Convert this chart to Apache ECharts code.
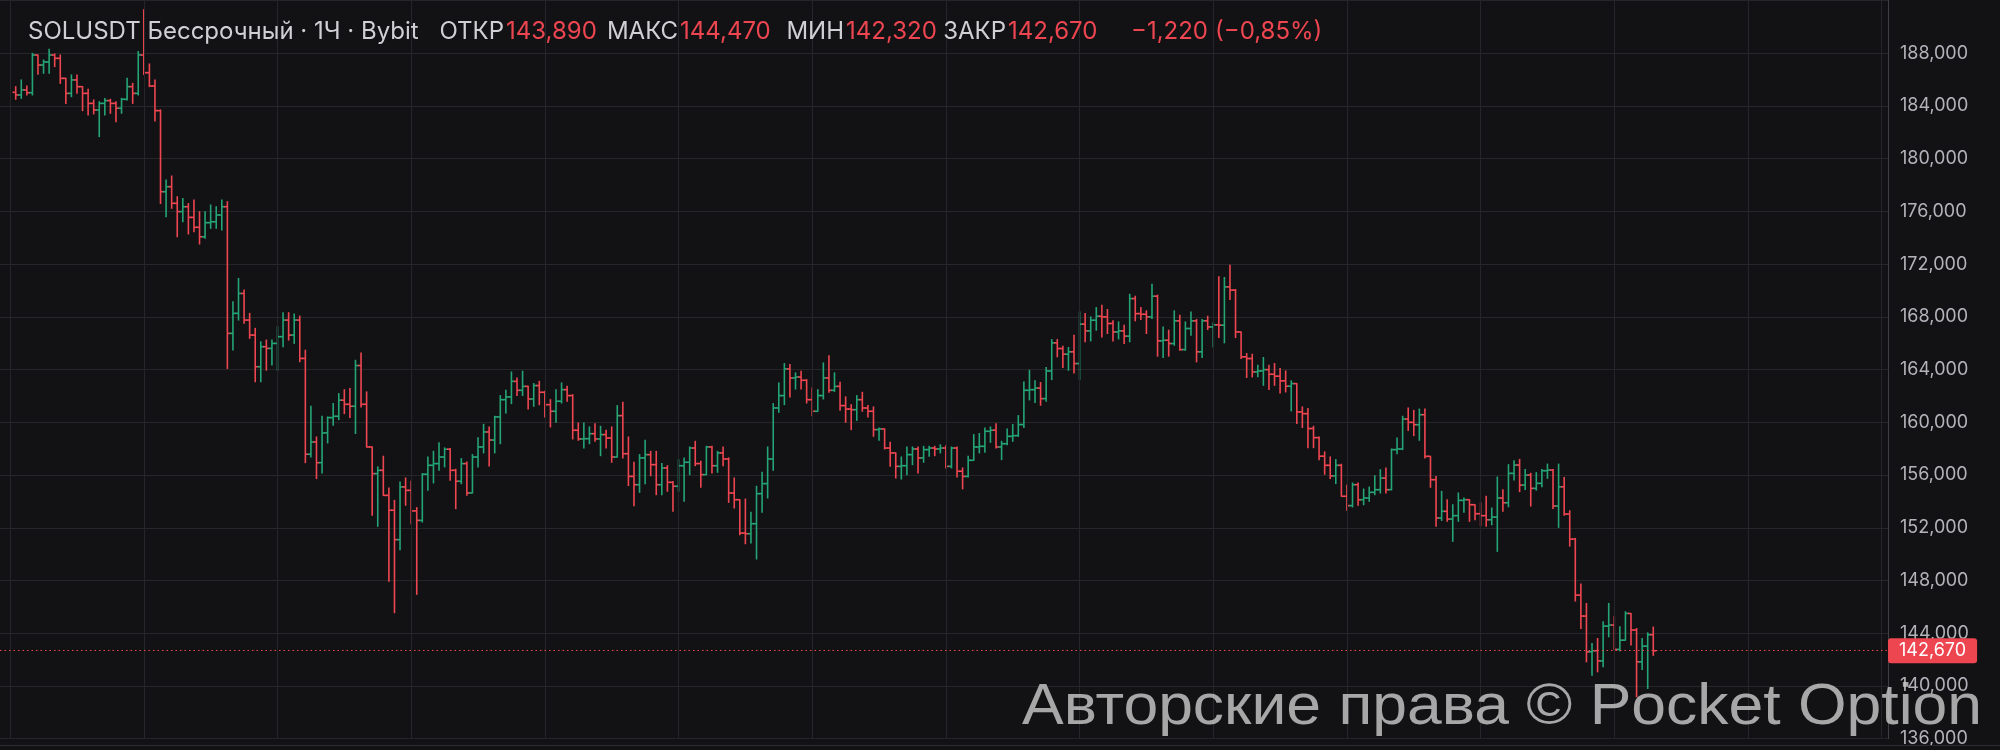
<!DOCTYPE html>
<html><head><meta charset="utf-8">
<script src="https://cdn.jsdelivr.net/npm/echarts@6/dist/echarts.min.js"></script>
<style>html,body{margin:0;padding:0;background:#121215;}#c{width:2000px;height:750px;}</style>
</head><body><div id="c"></div>
<script>
// ---- data (1H bars, SOLUSDT perpetual, Bybit) ----
const symbolTitle = 'SOLUSDT Бессрочный · 1Ч · Bybit';
const watermarkText = 'Авторские права © Pocket Option';
const firstDayBar = 23;           // index of the first bar that opens a new day
const barsPerDay = 24;
const priceTicks = [136000,140000,144000,148000,152000,156000,160000,164000,168000,172000,176000,180000,184000,188000];

const opens = [
185040,184840,185220,185010,187870,187110,187340,187870,187620,186100,
184960,185980,185470,184960,184200,183700,184200,184410,184200,183830,
184510,185470,184960,187870,186530,185520,183650,177500,177880,176620,
175990,176360,175550,174800,174080,175150,175220,175730,176360,166750,
168270,169780,167760,166620,164220,165740,165610,165990,166500,167760,
166620,167760,164850,157580,158510,156940,159200,160360,160460,161680,
161370,161220,164310,161370,158130,156110,156360,154460,153330,151100,
155100,154840,153280,152560,156060,156740,156870,157370,157960,156360,
155530,156870,154640,157370,158130,159270,158660,160410,161720,161930,
163110,162430,162730,161770,162790,162280,161340,160840,161600,162480,
162030,159400,158740,158760,159140,158740,159070,158810,157370,160510,
157620,155900,155270,157300,157550,156790,155270,156540,155450,155150,
156710,156970,158050,156870,156030,158130,156710,157680,157220,154640,
154130,151600,151550,152310,154590,155350,157220,161090,162030,164050,
163370,163440,163190,161720,160840,162030,163370,162430,162730,161270,
161010,160960,161720,161090,160840,159450,159500,158050,157680,156660,
156710,157550,157980,157300,157930,158050,157980,158050,156660,158050,
156290,155900,157120,158130,158180,159320,159400,158130,158380,158940,
158990,159830,162430,162480,162600,161800,163900,166030,165600,165170,
165350,164460,167450,166940,167750,168050,168000,167500,166860,166940,
166540,169390,168250,168200,168000,169570,166180,166230,165980,167700,
165520,167120,167700,165350,167700,167240,167400,167370,170280,170030,
166860,164970,164840,163830,163900,164000,163650,163500,163150,162740,
162940,160790,160660,159530,158840,157430,156740,155940,156740,154390,
153680,155270,154130,154260,154690,154890,155770,154890,157930,157980,
160250,160000,159820,160580,157420,155650,152740,153250,152660,152920,
154080,154130,153750,153070,152920,152610,152810,154260,153900,156130,
156760,155240,156000,154990,155370,156330,156380,153650,155110,153040,
151140,146890,145300,142590,142670,141900,144540,144620,142770,143470,
145500,144240,141830,143020,143890];

const highs = [
185470,185980,185520,188000,187870,187490,188300,187950,187870,186100,
186360,186360,185470,185270,184460,184330,184580,184510,184330,184580,
186100,185720,188130,191300,187190,185980,183700,178390,178690,177120,
176990,176600,176870,175980,175980,176490,176360,176870,176740,169150,
170920,170040,168270,167130,166110,166240,166240,167250,168320,168320,
168220,168060,165470,161220,158890,160460,160410,161420,162180,162480,
162560,164710,165270,162310,158130,156620,157430,155020,154080,155480,
155780,155530,153530,156110,157370,157800,158460,158060,158010,156440,
157250,157000,157550,158840,159850,159650,160460,162030,162430,163820,
163370,163880,162730,162940,163110,162360,161720,162480,162990,162730,
162100,159950,159950,159650,159900,159700,159400,159650,161270,161520,
158890,156970,157550,158640,157800,157800,156870,156710,155520,157170,
157300,158130,158560,157040,158180,158180,157800,158130,157300,155780,
154130,154180,153170,155150,156210,158130,161420,162990,164460,164380,
163750,163870,163240,162610,162480,164510,165060,163750,163040,161930,
161340,162030,162280,161270,161170,159580,159500,158480,157680,157370,
158130,158130,158130,158180,158180,158180,158300,158230,158130,158130,
156540,157420,159070,159150,159580,159650,159900,158560,159500,159830,
160510,163070,163950,163150,163020,164160,166280,166280,165780,165680,
166610,168380,168250,168000,168710,168890,168560,167700,167620,167370,
169720,169570,168710,168460,170480,169650,167240,166990,168460,168130,
167620,168380,167800,167800,168050,167550,171040,170990,171920,170080,
166860,165220,165170,164330,164920,164330,164460,164080,163900,163150,
162940,161170,161050,159700,158890,157760,157380,157170,156820,155230,
155400,155400,154940,155090,155950,156410,156540,157980,158810,160460,
161090,160910,161010,161010,157420,155900,154760,154130,153750,154640,
154260,154130,153750,153880,154390,153500,155850,154890,156790,157090,
157190,156430,156130,156180,156430,156830,156430,156830,155820,153290,
151190,147730,146260,143220,143600,144870,146260,145250,144490,145630,
145500,144360,143600,144030,144470];

const lows = [
184510,184580,184840,184840,186410,186480,186480,186990,185720,184200,
184710,184960,183650,183320,183400,181680,183320,183450,182810,183450,
184460,184200,184840,186400,185470,182870,176600,175600,176240,174080,
175220,174290,174470,173530,173960,174720,174720,174590,164090,165480,
167760,167510,166370,163080,163080,163960,164350,163960,165740,166240,
165990,164600,156940,157370,155730,156160,158440,159780,160210,160660,
160360,159150,161170,158130,152950,152110,154460,147940,145560,150340,
153710,152310,146950,152440,154840,155400,156360,156620,155600,153450,
155350,154460,154640,156620,157680,156690,157680,158380,160710,161420,
162030,162030,161010,161220,161340,160410,159650,160000,161470,161600,
158740,158640,158050,158380,158560,157470,158050,156970,157370,157300,
155200,153680,154690,155350,155950,154510,154510,154770,153250,154770,
154010,156030,156710,155070,156030,156160,156210,156710,153930,153500,
151480,150790,150840,149630,153170,154260,156360,160760,161340,161930,
162530,162530,161470,160510,160840,161770,162280,162350,160910,160000,
159450,160150,160840,160410,158940,158640,157980,156660,155780,155700,
156030,156790,156160,156970,157420,157470,157680,156540,156540,155850,
154950,155850,157120,157680,157730,158480,158050,157170,158300,158560,
158940,159600,161700,161500,161300,161600,163240,164970,164160,163950,
163750,163240,166110,166180,166990,166480,166740,166180,166330,165980,
166110,167700,167800,166740,167880,165020,164920,165020,165850,165470,
165470,166610,164590,164920,167040,165730,166430,166030,169320,166430,
164840,163400,163450,163450,162810,162490,162810,162230,162310,160870,
159910,159610,158080,158080,157170,156060,155730,155350,154390,153330,
153580,153710,153750,154010,154510,154640,154640,154890,157620,157930,
159390,158990,158640,157300,155070,152110,152560,152490,150970,152490,
153170,152490,152610,152160,152110,152230,150210,153250,153600,155620,
154740,154910,153650,154860,155110,155750,153470,152030,152960,150610,
146440,144360,141830,140820,141070,141450,143730,142770,142670,143470,
143100,139180,141250,139810,142320];

const closes = [
184840,185220,185010,187870,187110,187340,187870,187620,186100,184960,
185980,185470,184960,184200,183700,184200,184410,184200,183830,184510,
185470,184960,187870,186530,185520,183650,177500,177880,176620,175990,
176360,175550,174800,174080,175150,175220,175730,176360,166750,168270,
169780,167760,166620,164220,165740,165610,165990,166500,167760,166620,
167760,164850,157580,158510,156940,159200,160360,160460,161680,161370,
161220,164310,161370,158130,156110,156360,154460,153330,151100,155100,
154840,153280,152560,156060,156740,156870,157370,157960,156360,155530,
156870,154640,157370,158130,159270,158660,160410,161720,161930,163110,
162430,162730,161770,162790,162280,161340,160840,161600,162480,162030,
159400,158740,158760,159140,158740,159070,158810,157370,160510,157620,
155900,155270,157300,157550,156790,155270,156540,155450,155150,156710,
156970,158050,156870,156030,158130,156710,157680,157220,154640,154130,
151600,151550,152310,154590,155350,157220,161090,162030,164050,163370,
163440,163190,161720,160840,162030,163370,162430,162730,161270,161010,
160960,161720,161090,160840,159450,159500,158050,157680,156660,156710,
157550,157980,157300,157930,158050,157980,158050,156660,158050,156290,
155900,157120,158130,158180,159320,159400,158130,158380,158940,158990,
159830,162430,162480,162600,161800,163900,166030,165600,165170,165350,
164460,167450,166940,167750,168050,168000,167500,166860,166940,166540,
169390,168250,168200,168000,169570,166180,166230,165980,167700,165520,
167120,167700,165350,167700,167240,167400,167370,170280,170030,166860,
164970,164840,163830,163900,164000,163650,163500,163150,162740,162940,
160790,160660,159530,158840,157430,156740,155940,156740,154390,153680,
155270,154130,154260,154690,154890,155770,154890,157930,157980,160250,
160000,159820,160580,157420,155650,152740,153250,152660,152920,154080,
154130,153750,153070,152920,152610,152810,154260,153900,156130,156760,
155240,156000,154990,155370,156330,156380,153650,155110,153040,151140,
146890,145300,142590,142670,141900,144540,144620,142770,143470,145500,
144240,141830,143020,143890,142670];

// ---- styling ----
const BG = '#121215';
const GRID = '#25252a';
const UP = '#25a475';
const DOWN = '#ee4650';
const LABEL = '#cfcfd4';
const AXIS_TXT = '#b3b3b9';

const fmt = v => Math.round(v).toLocaleString('en-US');
const n = closes.length;
const last = n - 1;
const lastO = opens[last], lastH = highs[last], lastL = lows[last], lastC = closes[last];
const chg = lastC - closes[last - 1];
const pct = chg / closes[last - 1] * 100;
const sign = chg < 0 ? '\u2212' : '+';
const chgTxt = sign + fmt(Math.abs(chg));
const pctTxt = '(' + sign + Math.abs(pct).toFixed(2).replace('.', ',') + '%)';
const lastColor = lastC >= lastO ? UP : DOWN;
const chgColor = chg < 0 ? DOWN : UP;

const barData = closes.map((c, i) => [i, opens[i], highs[i], lows[i], c]);

// visible bar-index window of the time scale (empty space right of the last bar)
const xMin = -2.82, xMax = 336.14;
const dayLines = [];
for (let d = firstDayBar - barsPerDay; d <= xMax; d += barsPerDay) if (d >= xMin) dayLines.push({xAxis: d});

const tStep = priceTicks[1] - priceTicks[0];
const chart = echarts.init(document.getElementById('c'), null, {renderer: 'canvas', width: 2000, height: 750});

const hdrFont = '24px Inter';
function hdr(x, text, fill, align) {
  return {type: 'text', x: x, y: 32, z: 200,
    style: {text: text, fill: fill, font: hdrFont, textAlign: align || 'left', align: align || 'left',
      textVerticalAlign: 'middle', verticalAlign: 'middle'}};
}

chart.setOption({
  backgroundColor: BG,
  animation: false,
  grid: {left: 0, right: 112, top: 0.58, bottom: 11.34},
  xAxis: {
    type: 'value', min: xMin, max: xMax,
    axisLine: {show: false}, axisTick: {show: false}, axisLabel: {show: false},
    splitLine: {show: false}
  },
  yAxis: {
    type: 'value', position: 'right',
    min: priceTicks[0], max: priceTicks[priceTicks.length - 1] + tStep, interval: tStep,
    axisLine: {show: true, onZero: false, lineStyle: {color: '#3e3e45', width: 1}},
    axisTick: {show: false},
    splitLine: {show: true, lineStyle: {color: GRID, width: 1}},
    axisLabel: {
      color: AXIS_TXT, fontSize: 18, fontFamily: 'Inter', margin: 12,
      formatter: v => priceTicks.indexOf(v) >= 0 ? fmt(v) : ''
    }
  },
  series: [
    {
      // day separators (vertical grid)
      type: 'scatter', data: [], symbolSize: 0, silent: true, z: 1,
      markLine: {
        silent: true, symbol: 'none', animation: false,
        label: {show: false},
        lineStyle: {color: GRID, type: 'solid', width: 1},
        data: dayLines
      }
    },
    {
      type: 'custom',
      data: barData,
      encode: {x: 0, y: [1, 2, 3, 4]},
      renderItem: function (params, api) {
        const x = api.value(0), o = api.value(1), h = api.value(2), l = api.value(3), c = api.value(4);
        const pH = api.coord([x, h]), pL = api.coord([x, l]);
        const pO = api.coord([x, o]), pC = api.coord([x, c]);
        const col = c >= o ? UP : DOWN;
        const t = 3.2;
        const st = {stroke: col, lineWidth: 1.6, lineCap: 'butt'};
        return {type: 'group', children: [
          {type: 'line', shape: {x1: pH[0], y1: pH[1] - 0.5, x2: pL[0], y2: pL[1] + 0.5}, style: st},
          {type: 'line', shape: {x1: pO[0] - t, y1: pO[1], x2: pO[0], y2: pO[1]}, style: st},
          {type: 'line', shape: {x1: pC[0], y1: pC[1], x2: pC[0] + t, y2: pC[1]}, style: st}
        ]};
      },
      z: 3
    },
    {
      // last price line + label
      type: 'scatter',
      data: [[last, lastC]],
      symbolSize: 0,
      silent: true,
      z: 4,
      markLine: {
        silent: true, symbol: 'none', animation: false,
        data: [{yAxis: lastC}],
        lineStyle: {color: lastColor, type: [1.5, 3], width: 1},
        label: {
          show: true, position: 'end', distance: 0,
          formatter: fmt(lastC), color: '#ffffff',
          backgroundColor: lastColor, borderRadius: 3,
          padding: [4, 11, 3, 11], fontSize: 18, fontFamily: 'Inter'
        }
      }
    }
  ],
  graphic: [
    {type: 'rect', z: 150, shape: {x: 0, y: 745, width: 2000, height: 5}, style: {fill: BG}},
    {type: 'line', z: 151, shape: {x1: 0, y1: 745.5, x2: 2000, y2: 745.5}, style: {stroke: '#2c2c32', lineWidth: 1}},
    hdr(28, symbolTitle, LABEL),
    hdr(504, 'ОТКР', LABEL, 'right'), hdr(506, fmt(lastO), DOWN),
    hdr(678, 'МАКС', LABEL, 'right'), hdr(680, fmt(lastH), DOWN),
    hdr(844, 'МИН', LABEL, 'right'), hdr(846, fmt(lastL), DOWN),
    hdr(1006, 'ЗАКР', LABEL, 'right'), hdr(1008, fmt(lastC), DOWN),
    hdr(1131, chgTxt, chgColor), hdr(1215, pctTxt, chgColor),
    {type: 'text', x: 1022, y: 707.5, z: 300, scaleX: 1.077,
      style: {text: watermarkText, fill: 'rgba(200,200,200,0.82)', font: '58px "Liberation Sans"',
        textVerticalAlign: 'middle', verticalAlign: 'middle'}}
  ]
});
</script>
</body></html>
